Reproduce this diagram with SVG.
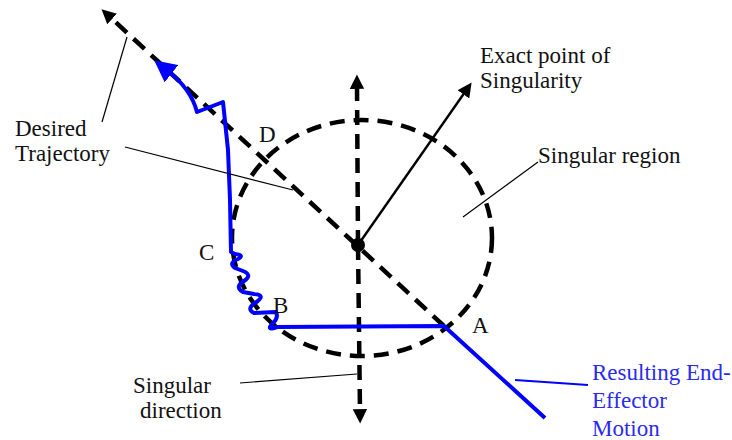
<svg xmlns="http://www.w3.org/2000/svg" width="732" height="440" viewBox="0 0 732 440">
<style>
.dash{fill:none;stroke:#000;stroke-width:4.5;stroke-dasharray:15 9}
.lead{fill:none;stroke:#000;stroke-width:1.2}
.blue{fill:none;stroke:#0000ff;stroke-width:4;stroke-linejoin:round}
.t{fill:#111}
.tb{fill:#2a2af0}
</style>
<defs>
<marker id="ak" viewBox="0 0 10 10" refX="2" refY="5" markerWidth="3.2" markerHeight="3.2" orient="auto" markerUnits="strokeWidth">
<path d="M0,0 L10,5 L0,10 Z" fill="#000"/>
</marker>
<marker id="ak2" viewBox="0 0 10 10" refX="2" refY="5" markerWidth="6" markerHeight="6" orient="auto" markerUnits="strokeWidth">
<path d="M0,0 L10,5 L0,10 Z" fill="#000"/>
</marker>
<marker id="ab" viewBox="0 0 10 10" refX="2" refY="5" markerWidth="5.5" markerHeight="5.5" orient="auto" markerUnits="strokeWidth">
<path d="M0,0 L10,5 L0,10 Z" fill="#0000ff"/>
</marker>
</defs>
<g id="region">
<ellipse class="dash" cx="362" cy="238" rx="130" ry="118"/>
</g>
<g id="connectors">
<line class="dash" x1="444" y1="326" x2="110" y2="17" marker-end="url(#ak)"/>
<line class="dash" x1="358" y1="245" x2="357" y2="86" marker-end="url(#ak)"/>
<line class="dash" x1="358" y1="245" x2="360" y2="412" marker-end="url(#ak)"/>
<line x1="358" y1="245" x2="465" y2="92" stroke="#000" stroke-width="2.4" marker-end="url(#ak2)"/>
<path class="blue" d="M545,418 L444,326 L277,327 Q266,331 272,324 Q279,318 276,312 L254,313 Q246,309 255,303 Q267,295 254,294 L243,292 Q234,287 244,281 Q253,275 243,271 L235,268 Q228,263 238,259 Q245,255 235,254 L231,252 L230,200 L228,150 L223,102 L197,112 Q191,89 168,71" marker-end="url(#ab)"/>
<line class="lead" x1="102" y1="122" x2="127" y2="37"/>
<line class="lead" x1="125" y1="147" x2="293" y2="190"/>
<line class="lead" x1="538" y1="162" x2="463" y2="217"/>
<line class="lead" x1="240" y1="383" x2="357" y2="374"/>
<line x1="515" y1="380" x2="588" y2="385" stroke="#0000ff" stroke-width="2"/>
</g>
<g id="center">
<circle cx="358" cy="245" r="7" fill="#000"/>
</g>
<g id="labels" font-family="Liberation Serif, DejaVu Serif, Times New Roman, serif" font-size="23">
<text class="t" x="15" y="136">Desired</text>
<text class="t" x="15" y="161">Trajectory</text>
<text class="t" x="480" y="63">Exact point of</text>
<text class="t" x="480" y="88">Singularity</text>
<text class="t" x="538" y="163">Singular region</text>
<text class="t" x="259" y="142">D</text>
<text class="t" x="199" y="260">C</text>
<text class="t" x="273" y="313">B</text>
<text class="t" x="472" y="333">A</text>
<text class="t" x="133" y="393">Singular</text>
<text class="t" x="140" y="418">direction</text>
<text class="tb" x="592" y="380">Resulting End-</text>
<text class="tb" x="592" y="408">Effector</text>
<text class="tb" x="592" y="436">Motion</text>
</g>
</svg>
